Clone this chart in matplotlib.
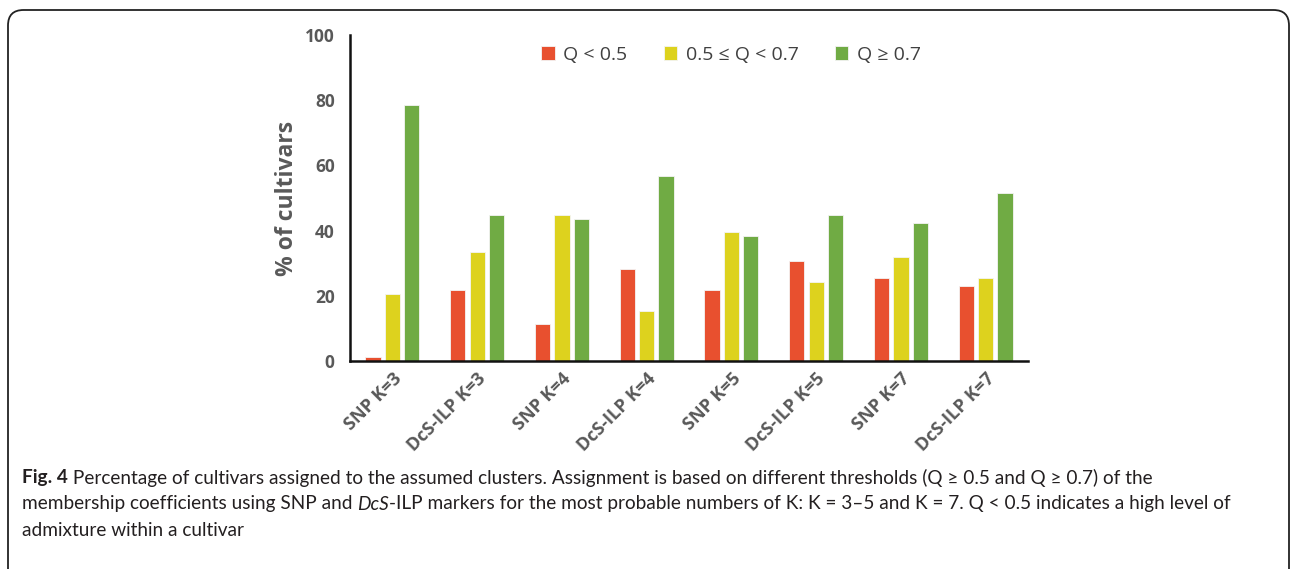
import numpy as np
import matplotlib
matplotlib.use("Agg")
import matplotlib.pyplot as plt
from matplotlib.patches import FancyBboxPatch
from matplotlib import font_manager

categories = ["SNP K=3", "DcS-ILP K=3", "SNP K=4", "DcS-ILP K=4",
              "SNP K=5", "DcS-ILP K=5", "SNP K=7", "DcS-ILP K=7"]
series_names = ["Q < 0.5", "0.5 \u2264 Q < 0.7", "Q \u2265 0.7"]
q_low = [1.1, 21.8, 11.3, 28.3, 21.8, 30.8, 25.6, 23.1]
q_mid = [20.6, 33.5, 44.9, 15.3, 39.7, 24.2, 32.0, 25.6]
q_high = [78.4, 44.9, 43.6, 56.6, 38.4, 44.9, 42.4, 51.4]
colors = ["#E8502F", "#DDD21E", "#70AB44"]

installed = {f.name for f in font_manager.fontManager.ttflist}
chart_font = "Open Sans" if "Open Sans" in installed else "DejaVu Sans"
cap_font = "Lato" if "Lato" in installed else "DejaVu Sans"

fig = plt.figure(figsize=(12.92, 5.69), dpi=100)
ax = fig.add_axes([0.2709, 0.3656, 0.5248, 0.5729])

x = np.arange(len(categories))
offset = 0.228
width = 0.18
for i, (vals, name) in enumerate(zip([q_low, q_mid, q_high], series_names)):
    ax.bar(x + (i - 1) * offset, vals, width, color=colors[i], label=name,
           edgecolor="#f4f4f4", linewidth=0.6)

ax.set_xlim(-0.5, len(categories) - 0.5)
ax.set_ylim(0, 100)
ax.set_yticks([0, 20, 40, 60, 80, 100])
ax.set_xticks(x)
ax.set_xticklabels(categories, rotation=45, ha="right", rotation_mode="anchor",
                   fontsize=13, fontweight="bold", color="#595959", family=chart_font)
ax.tick_params(axis="x", length=0, pad=6)
ax.tick_params(axis="y", length=0, pad=11)
for lab in ax.get_yticklabels():
    lab.set_fontsize(12.5)
    lab.set_fontweight("bold")
    lab.set_color("#595959")
    lab.set_family(chart_font)
for s in ["top", "right"]:
    ax.spines[s].set_visible(False)
for s in ["left", "bottom"]:
    ax.spines[s].set_linewidth(1.8)
    ax.spines[s].set_color("#111111")
ax.set_ylabel("% of cultivars", fontsize=16.5, fontweight="bold", color="#595959",
              family=chart_font, labelpad=4)

leg = ax.legend(loc="center", bbox_to_anchor=(0.562, 0.94), ncol=3, frameon=False,
                handlelength=0.7, handleheight=0.7, columnspacing=1.85, handletextpad=0.45,
                prop={"family": chart_font, "size": 14})
for t in leg.get_texts():
    t.set_color("#404040")

# border around the figure panel
box = FancyBboxPatch((8 / 1292, -0.05), 1281 / 1292, (569 - 10) / 569 + 0.05,
                     boxstyle="round,pad=0,rounding_size=0.012", transform=fig.transFigure,
                     facecolor="none", edgecolor="#222222", linewidth=1.3, clip_on=False,
                     mutation_aspect=1292 / 569)
fig.patches.append(box)

# caption with mixed styles
caption = [
    [("Fig. 4", "bold", "normal"),
     (" Percentage of cultivars assigned to the assumed clusters. Assignment is based on different "
      "thresholds (Q \u2265 0.5 and Q \u2265 0.7) of the", "normal", "normal")],
    [("membership coefficients using SNP and ", "normal", "normal"), ("DcS", "normal", "italic"),
     ("-ILP markers for the most probable numbers of K: K = 3\u20135 and K = 7. Q < 0.5 indicates a "
      "high level of", "normal", "normal")],
    [("admixture within a cultivar", "normal", "normal")],
]
renderer = fig.canvas.get_renderer()


def line_width(segs, size):
    w = 0
    for text, weight, style in segs:
        t = fig.text(0, 0, text, fontsize=size, fontweight=weight, fontstyle=style,
                     family=cap_font)
        w += t.get_window_extent(renderer).width
        t.remove()
    return w


size = 13
widest = max(line_width(segs, size) for segs in caption)
size = size * 1205 / widest

y_lines = [478, 504, 530]
for segs, yp in zip(caption, y_lines):
    xp = 22
    for text, weight, style in segs:
        t = fig.text(xp / 1292, 1 - yp / 569, text, fontsize=size, fontweight=weight,
                     fontstyle=style, family=cap_font, color="#231f20", va="center", ha="left")
        xp += t.get_window_extent(renderer).width

fig.savefig("out.png", dpi=100)
